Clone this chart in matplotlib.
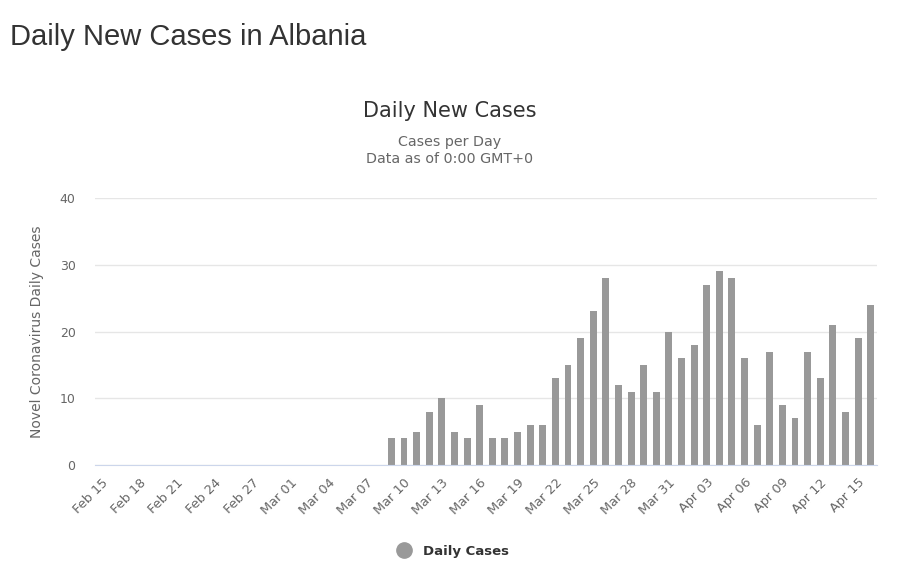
import pandas as pd
import matplotlib
matplotlib.use("Agg")
import matplotlib.pyplot as plt
from matplotlib.lines import Line2D

# --- data ---
dates = pd.date_range("2020-02-15", "2020-04-16", freq="D")
labels = [d.strftime("%b %d") for d in dates]

# Feb 15 - Mar 08: no cases reported
zeros_before = [0] * 23
# Mar 09 - Apr 16
daily_cases = zeros_before + [
    4, 4, 5, 8, 10, 5, 4, 9, 4, 4, 5, 6, 6, 13, 15, 19, 23, 28, 12,
    11, 15, 11, 20, 16, 18, 27, 29, 28, 16, 6, 17, 9, 7, 17, 13, 21, 8, 19, 24,
]
y_ticks = [0, 10, 20, 30, 40]

BAR_COLOR = "#999999"
TEXT_GRAY = "#666666"

plt.rcParams['font.family'] = ['DejaVu Sans']

fig = plt.figure(figsize=(9, 5.71), dpi=100)
ax = fig.add_axes([0.1056, 0.1856, 0.8688, 0.4676])

x = list(range(len(dates)))
ax.bar(x, daily_cases, width=0.55, color=BAR_COLOR, zorder=3)

ax.set_xlim(-0.5, len(dates) - 0.5)
ax.set_ylim(0, 40)
ax.set_yticks(y_ticks)
ax.set_yticklabels([str(v) for v in y_ticks])
ax.yaxis.grid(True, color="#e6e6e6", linewidth=1, zorder=0)
ax.tick_params(axis='y', length=0, labelsize=9, labelcolor=TEXT_GRAY, pad=14)

tick_pos = x[::3]
ax.set_xticks(tick_pos)
ax.set_xticklabels([labels[i] for i in tick_pos], rotation=45, ha='right',
                   rotation_mode='anchor', fontsize=9.3, color=TEXT_GRAY)
ax.tick_params(axis='x', length=0, pad=8)

for side in ['top', 'right', 'left']:
    ax.spines[side].set_visible(False)
ax.spines['bottom'].set_color("#ccd6eb")
ax.spines['bottom'].set_zorder(4)

ax.set_ylabel("Novel Coronavirus Daily Cases", fontsize=10, color=TEXT_GRAY, labelpad=11)

# titles
fig.text(0.011, 0.935, "Daily New Cases in Albania", fontsize=21, color="#333333",
         family=['Liberation Sans'], va='center', ha='left')
fig.text(0.5, 0.805, "Daily New Cases", fontsize=15, color="#333333",
         ha='center', va='center')
fig.text(0.5, 0.736, "Cases per Day\nData as of 0:00 GMT+0", fontsize=10.3,
         color=TEXT_GRAY, ha='center', va='center', linespacing=1.25)

# legend
handle = Line2D([], [], marker='o', linestyle='none', markersize=11,
                markerfacecolor=BAR_COLOR, markeredgecolor=BAR_COLOR)
fig.legend([handle], ["Daily Cases"], loc='center', bbox_to_anchor=(0.5, 0.035),
           frameon=False, prop={'weight': 'bold', 'size': 9.5}, labelcolor="#333333",
           handletextpad=0.4)

fig.savefig("out.png", dpi=100, facecolor="white")
